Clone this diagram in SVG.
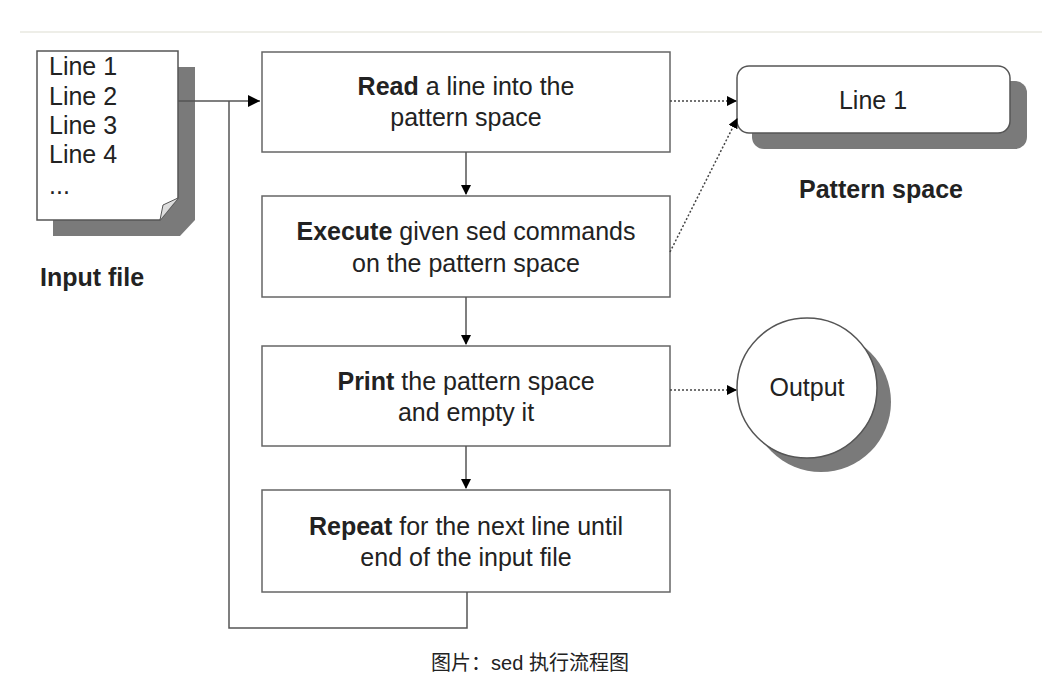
<svg xmlns="http://www.w3.org/2000/svg" width="1046" height="699" viewBox="0 0 1046 699">
<style>
.t{font-family:"Liberation Sans",Arial,sans-serif;font-size:25px;fill:#222}
.c{text-anchor:middle}
.box{fill:#fff;stroke:#666;stroke-width:1.5}
.sh{fill:#7a7a7a}
.ln{fill:none;stroke:#555;stroke-width:1.5}
.dot{fill:none;stroke:#444;stroke-width:1.5;stroke-dasharray:2 2}
</style>
<defs>
<marker id="a" markerWidth="10" markerHeight="10" refX="9" refY="5" orient="auto" markerUnits="userSpaceOnUse"><path d="M0,0 L10,5 L0,10z" fill="#000"/></marker>
<marker id="b" markerWidth="12" markerHeight="12" refX="12" refY="6" orient="auto" markerUnits="userSpaceOnUse"><path d="M0,0 L12,6 L0,12z" fill="#000"/></marker>
</defs>
<rect width="1046" height="699" fill="#fff"/>
<line x1="20" y1="32" x2="1042" y2="32" stroke="#e8e8e0" stroke-width="1.5"/>
<g id="input">
<path class="sh" d="M53,67 H195 V220 L180,236 H53z"/>
<path d="M37,51 H178 V198 L160,220 H37z" fill="#fff" stroke="#555" stroke-width="1.5"/>
<path d="M160,220 L163,205 L178,198" fill="#ddd" stroke="#555" stroke-width="1"/>
<text class="t" x="49" y="75" font-size="22">Line 1</text>
<text class="t" x="49" y="105" font-size="22">Line 2</text>
<text class="t" x="49" y="134" font-size="22">Line 3</text>
<text class="t" x="49" y="163" font-size="22">Line 4</text>
<text class="t" x="49" y="194" font-size="22">...</text>
<text class="t" x="40" y="286" font-size="30" font-weight="bold">Input file</text>
</g>
<g id="read"><rect class="box" x="262" y="52" width="408" height="100"/>
<text class="t c" x="466" y="95"><tspan font-weight="bold">Read</tspan> a line into the</text>
<text class="t c" x="466" y="126">pattern space</text></g>
<g id="execute"><rect class="box" x="262" y="196" width="408" height="101"/>
<text class="t c" x="466" y="240"><tspan font-weight="bold">Execute</tspan> given sed commands</text>
<text class="t c" x="466" y="272">on the pattern space</text></g>
<g id="print"><rect class="box" x="262" y="346" width="408" height="100"/>
<text class="t c" x="466" y="390"><tspan font-weight="bold">Print</tspan> the pattern space</text>
<text class="t c" x="466" y="421">and empty it</text></g>
<g id="repeat"><rect class="box" x="262" y="490" width="408" height="102"/>
<text class="t c" x="466" y="535"><tspan font-weight="bold">Repeat</tspan> for the next line until</text>
<text class="t c" x="466" y="566">end of the input file</text></g>
<g id="pattern">
<rect class="sh" x="752" y="81" width="275" height="68" rx="12"/>
<rect x="737" y="66" width="273" height="67" rx="12" fill="#fff" stroke="#555" stroke-width="1.5"/>
<text class="t c" x="873" y="109">Line 1</text>
<text class="t c" x="881" y="198" font-size="30" font-weight="bold">Pattern space</text>
</g>
<g id="output">
<circle class="sh" cx="821" cy="402" r="70"/>
<circle cx="807" cy="388" r="70" fill="#fff" stroke="#555" stroke-width="1.5"/>
<text class="t c" x="807" y="396">Output</text>
</g>
<g id="connectors">
<path class="ln" d="M178,101 H260" marker-end="url(#b)"/>
<path class="ln" d="M467,592 V628 H229 V101"/>
<path class="ln" d="M466,152 V194" marker-end="url(#a)"/>
<path class="ln" d="M466,297 V344" marker-end="url(#a)"/>
<path class="ln" d="M466,446 V488" marker-end="url(#a)"/>
<path class="dot" d="M670,101 H736" marker-end="url(#a)"/>
<path class="dot" d="M670,252 L737,119" marker-end="url(#a)"/>
<path class="dot" d="M670,390 H736" marker-end="url(#a)"/>
</g>
<text x="530" y="670" text-anchor="middle" font-family="Liberation Sans,'Noto Sans CJK SC',sans-serif" font-size="20" fill="#222">图片：sed 执行流程图</text>
</svg>
